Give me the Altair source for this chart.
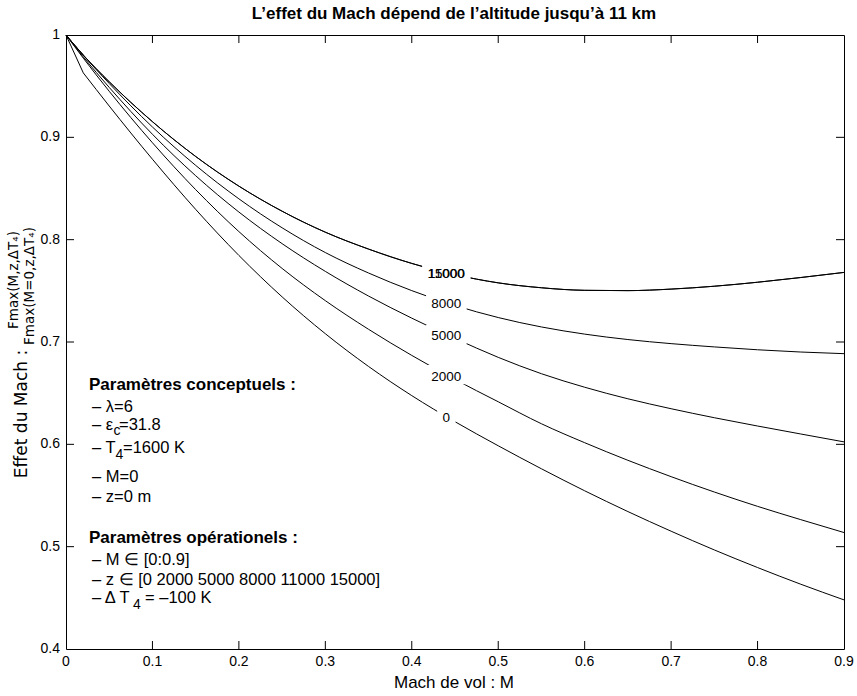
import altair as alt
import numpy as np
import pandas as pd

# ---------------- data ----------------
M = [0.0, 0.02, 0.05, 0.10, 0.15, 0.20, 0.25, 0.30, 0.35, 0.40,
     0.45, 0.50, 0.55, 0.60, 0.65, 0.70, 0.75, 0.80, 0.85, 0.90]

F_z0 = [1.000, 0.963, 0.9306, 0.8786, 0.8296, 0.7846, 0.7441, 0.7081, 0.6761, 0.6476,
        0.6221, 0.5986, 0.5761, 0.5546, 0.5343, 0.5151, 0.4968, 0.4796, 0.4633, 0.4480]
F_z2000 = [1.000, 0.9774, 0.945, 0.8947, 0.8489, 0.8079, 0.7719, 0.7404, 0.7124, 0.6869,
           0.6634, 0.6416, 0.6201, 0.6016, 0.5844, 0.5684, 0.5534, 0.5394, 0.5264, 0.5138]
F_z5000 = [1.000, 0.9786, 0.9488, 0.903, 0.8625, 0.827, 0.7961, 0.769, 0.7449, 0.7233,
           0.7035, 0.685, 0.669, 0.6558, 0.6445, 0.6348, 0.626, 0.6179, 0.6101, 0.6024]
F_z8000 = [1.000, 0.9802, 0.9526, 0.9101, 0.8726, 0.8399, 0.8116, 0.7874, 0.7674, 0.7502,
           0.7357, 0.7239, 0.7147, 0.7077, 0.7024, 0.6984, 0.6952, 0.6924, 0.6902, 0.6886]
F_z11000 = [1.000, 0.9804, 0.9543, 0.9153, 0.8813, 0.8523, 0.8278, 0.8073, 0.7908, 0.7768,
            0.7658, 0.7578, 0.753, 0.7505, 0.7502, 0.7517, 0.7545, 0.7584, 0.763, 0.768]
F_z15000 = [1.000, 0.9804, 0.9543, 0.9153, 0.8813, 0.8523, 0.8278, 0.8073, 0.7908, 0.7768,
            0.7658, 0.7578, 0.753, 0.7505, 0.7502, 0.7517, 0.7545, 0.7584, 0.763, 0.768]

altitudes = ["0", "2000", "5000", "8000", "11000", "15000"]
series = [F_z0, F_z2000, F_z5000, F_z8000, F_z11000, F_z15000]

label_M = 0.44  # abscissa where the contour-style labels sit

x_ticks = [0, 0.1, 0.2, 0.3, 0.4, 0.5, 0.6, 0.7, 0.8, 0.9]
x_tick_labels = ["0", "0.1", "0.2", "0.3", "0.4", "0.5", "0.6", "0.7", "0.8", "0.9"]
y_ticks = [0.4, 0.5, 0.6, 0.7, 0.8, 0.9, 1.0]
y_tick_labels = ["0.4", "0.5", "0.6", "0.7", "0.8", "0.9", "1"]

# ---------------- layout ----------------
L, T = 66, 35
W, H = 778, 614
FONT = "Liberation Sans"

rows = []
for z, ys in zip(altitudes, series):
    for i, (m, v) in enumerate(zip(M, ys)):
        rows.append({"M": m, "F": v, "z": z, "i": i})
df = pd.DataFrame(rows)

xscale = alt.Scale(domain=[0, 0.9], nice=False, zero=False)
yscale = alt.Scale(domain=[0.4, 1.0], nice=False, zero=False)


def X(field):
    return alt.X(field, scale=xscale, axis=None)


def Y(field):
    return alt.Y(field, scale=yscale, axis=None)


# smooth curves; the z=0 curve keeps its sharp first segment
smooth_df = df[(df.z != "0") | (df.i >= 1)]
first_df = df[(df.z == "0") & (df.i <= 1)]

lines_smooth = alt.Chart(smooth_df).mark_line(
    color="black", strokeWidth=1, interpolate="monotone"
).encode(x=X("M:Q"), y=Y("F:Q"), detail="z:N")
lines_first = alt.Chart(first_df).mark_line(color="black", strokeWidth=1).encode(
    x=X("M:Q"), y=Y("F:Q"), detail="z:N")

# labels on the curves, with white gaps in the lines
px_per_unit = W / 0.9
lab = pd.DataFrame({
    "z": altitudes,
    "M": [label_M] * len(altitudes),
    "F": [float(np.interp(label_M, M, s)) for s in series],
})
lab["hw"] = [(len(t) * 7.4 + 11) / 2 / px_per_unit for t in altitudes]
lab["x1"] = lab["M"] - lab["hw"]
lab["x2"] = lab["M"] + lab["hw"]
lab["y1"] = lab["F"] - 0.0095
lab["y2"] = lab["F"] + 0.0095

gaps = alt.Chart(lab).mark_rect(color="white").encode(
    x=X("x1:Q"), x2="x2:Q", y=Y("y1:Q"), y2="y2:Q")
labels = alt.Chart(lab).mark_text(
    font=FONT, fontSize=13.5, color="black", align="center", baseline="middle", dy=2
).encode(x=X("M:Q"), y=Y("F:Q"), text="z:N")

# inward ticks on all four sides (MATLAB box style)
xt = pd.DataFrame({"M": x_ticks, "lab": x_tick_labels})
yt = pd.DataFrame({"F": y_ticks, "lab": y_tick_labels})
xt_in = xt.iloc[1:-1]
yt_in = yt.iloc[1:-1]
TK = 8
tick_b = alt.Chart(xt_in).mark_rule(color="black", strokeWidth=1).encode(
    x=X("M:Q"), y=alt.value(H), y2=alt.value(H - TK))
tick_t = alt.Chart(xt_in).mark_rule(color="black", strokeWidth=1).encode(
    x=X("M:Q"), y=alt.value(0), y2=alt.value(TK))
tick_l = alt.Chart(yt_in).mark_rule(color="black", strokeWidth=1).encode(
    y=Y("F:Q"), x=alt.value(0), x2=alt.value(TK))
tick_r = alt.Chart(yt_in).mark_rule(color="black", strokeWidth=1).encode(
    y=Y("F:Q"), x=alt.value(W), x2=alt.value(W - TK))

# tick labels
xlab = alt.Chart(xt).mark_text(
    font=FONT, fontSize=14, color="black", align="center", baseline="middle"
).encode(x=X("M:Q"), y=alt.value(H + 13), text="lab:N")
ylab = alt.Chart(yt).mark_text(
    font=FONT, fontSize=14, color="black", align="right", baseline="middle"
).encode(y=Y("F:Q"), x=alt.value(-6), text="lab:N")

dummy = pd.DataFrame({"a": [0]})


def txt(s, px, py, size=16.5, weight="normal", angle=0, align="left", font=FONT):
    return alt.Chart(dummy).mark_text(
        text=s, font=font, fontSize=size, fontWeight=weight, color="black",
        align=align, baseline="middle", angle=angle
    ).encode(x=alt.value(px - L), y=alt.value(py - T))


texts = [
    txt("L\u2019effet du Mach d\u00e9pend de l\u2019altitude jusqu\u2019\u00e0 11 km", 454, 13.5,
        size=17, weight="bold", align="center"),
    txt("Mach de vol : M", 454, 683, size=17, align="center"),
    txt("Effet du Mach :", 22, 414, size=17, angle=270, align="center", font="DejaVu Sans"),
    txt("Fmax(M,z,\u0394T\u2084)", 14, 280, size=13.5, angle=270, align="center",
        font="DejaVu Sans"),
    txt("Fmax(M=0,z,\u0394T\u2084)", 30, 286, size=13.5, angle=270, align="center",
        font="DejaVu Sans"),
    # parameter box
    txt("Param\u00e8tres conceptuels :", 89, 385, size=17, weight="bold"),
    txt("\u2013 \u03bb=6", 92, 406.5),
    txt("\u2013 \u03b5", 92, 425),
    txt("c", 113.5, 431, size=14),
    txt("=31.8", 119, 425),
    txt("\u2013 T", 92, 448),
    txt("4", 115.5, 455, size=14),
    txt("=1600 K", 123, 448),
    txt("\u2013 M=0", 92, 476.5),
    txt("\u2013 z=0 m", 92, 496.5),
    txt("Param\u00e8tres op\u00e9rationels :", 89, 538, size=17, weight="bold"),
    txt("\u2013 M \u2208 [0:0.9]", 92, 560),
    txt("\u2013 z \u2208 [0 2000 5000 8000 11000 15000]", 92, 580),
    txt("\u2013 \u0394 T", 92, 598),
    txt("4", 133, 605, size=14),
    txt("= \u2013100 K", 145, 598),
]

chart = alt.layer(
    lines_smooth, lines_first, gaps, labels, tick_b, tick_t, tick_l, tick_r,
    xlab, ylab, *texts
).properties(
    width=W, height=H,
    padding={"left": L, "top": T, "right": 857 - L - W, "bottom": 696 - T - H},
    autosize=alt.AutoSizeParams(type="none"),
    background="white",
).configure_view(stroke="black", strokeWidth=1)

chart.save("out.html", embed_options={"renderer": "svg", "actions": False})
